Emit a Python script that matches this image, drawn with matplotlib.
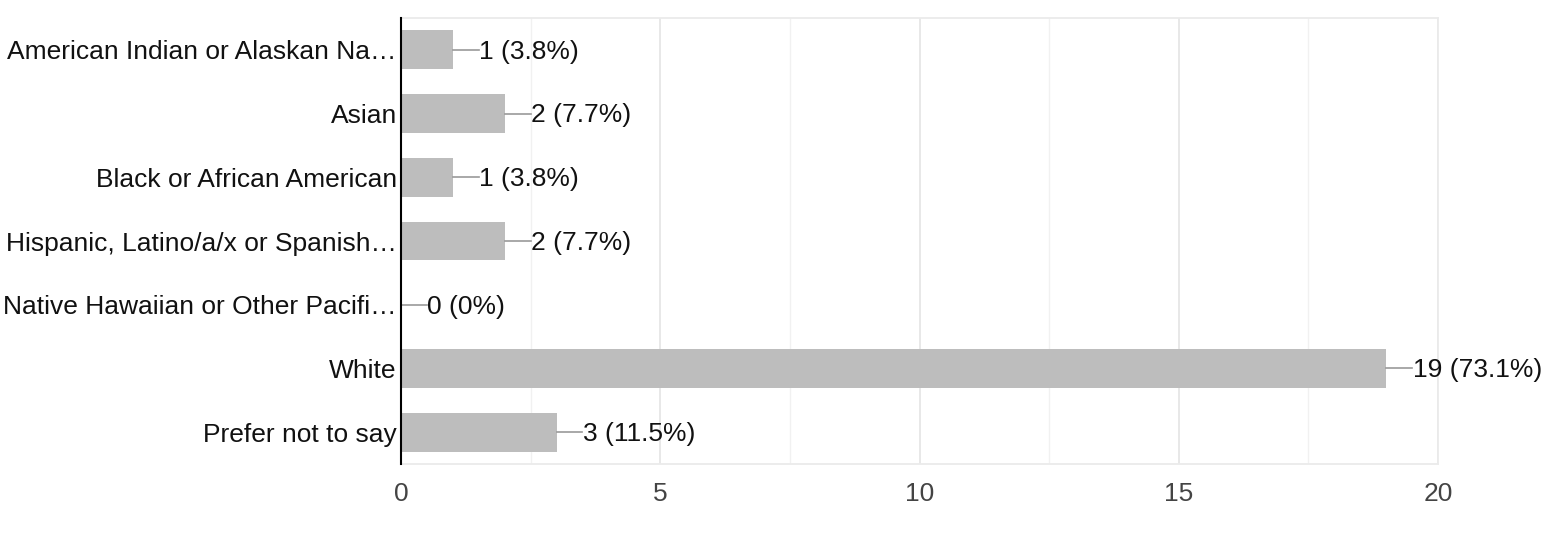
import matplotlib.pyplot as plt

categories = ['American Indian or Alaskan Na…', 'Asian', 'Black or African American',
              'Hispanic, Latino/a/x or Spanish…', 'Native Hawaiian or Other Pacifi…',
              'White', 'Prefer not to say']
counts = [1, 2, 1, 2, 0, 19, 3]
percents = ['3.8%', '7.7%', '3.8%', '7.7%', '0%', '73.1%', '11.5%']
xticks = [0, 5, 10, 15, 20]

plt.rcParams['font.family'] = ['Liberation Sans', 'DejaVu Sans']

fig = plt.figure(figsize=(15.66, 5.39), dpi=100)
ax = fig.add_axes([401 / 1566, 1 - 464 / 539, 1037 / 1566, 446 / 539])

y = list(range(len(categories)))
ax.barh(y, counts, height=0.61, color='#bdbdbd', zorder=2)

# leader line + value label
lead = 0.5
for yi, c, p in zip(y, counts, percents):
    ax.plot([c, c + lead], [yi, yi], color='#999999', lw=1.2, zorder=3)
    ax.text(c + lead + 0.01, yi + 0.03, f'{c} ({p})', va='center', ha='left',
            fontsize=19, color='#111111', zorder=4)

ax.set_xlim(0, 20)
ax.set_ylim(len(categories) - 0.5, -0.5)
ax.set_yticks(y)
ax.set_yticklabels(categories, fontsize=19, color='#111111')
ax.set_xticks(xticks)
ax.set_xticklabels([str(t) for t in xticks], fontsize=19, color='#444444')
ax.set_xticks([2.5, 7.5, 12.5, 17.5], minor=True)
ax.tick_params(axis='both', which='both', length=0)
ax.tick_params(axis='x', pad=13)
ax.tick_params(axis='y', pad=3)

ax.grid(axis='x', which='major', color='#e6e6e6', lw=1.3, zorder=0)
ax.grid(axis='x', which='minor', color='#f1f1f1', lw=1.0, zorder=0)

for side in ['top', 'right', 'bottom']:
    ax.spines[side].set_color('#ebebeb')
    ax.spines[side].set_linewidth(1.3)
ax.spines['left'].set_color('#000000')
ax.spines['left'].set_linewidth(1.5)
ax.spines['left'].set_zorder(5)

fig.savefig('out.png', dpi=100)
